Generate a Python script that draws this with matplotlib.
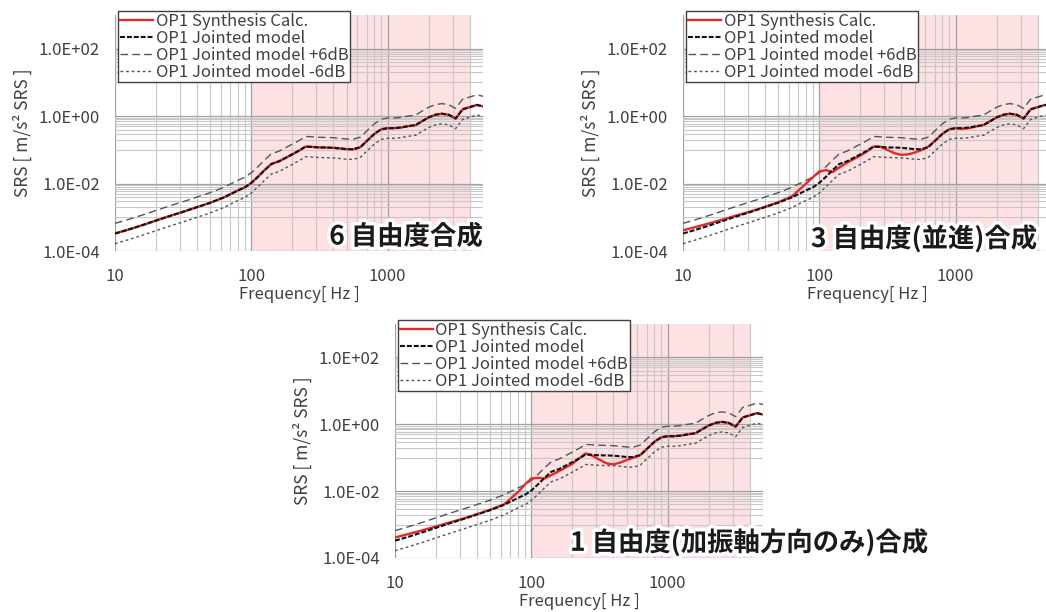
import matplotlib
matplotlib.use('Agg')
import matplotlib.pyplot as plt
import matplotlib.patheffects as pe
from matplotlib.ticker import FixedLocator, FixedFormatter, NullFormatter

plt.rcParams['font.family'] = ['Noto Sans CJK JP', 'DejaVu Sans']

# ============================================
# SRS data (frequency [Hz] / SRS [m/s^2])
# ============================================

freq = [10, 12.5, 16, 20, 25, 31.5, 40, 50, 63, 80, 90, 100, 112, 125, 140,
        160, 180, 200, 224, 250, 280, 315, 355, 400, 450, 500, 560, 630, 710,
        800, 900, 1000, 1120, 1250, 1400, 1600, 1800, 2000, 2240, 2500, 2800,
        3150, 3550, 4000, 4500, 5000]

# OP1 jointed model (reference)
jointed = [3.3e-4, 4.3e-4, 5.9e-4, 8.0e-4, 1.08e-3, 1.45e-3, 2.0e-3, 2.7e-3,
           3.9e-3, 6.3e-3, 7.8e-3, 1.05e-2, 1.6e-2, 2.5e-2, 3.8e-2,
           4.6e-2, 5.9e-2, 7.4e-2, 9.5e-2, 0.125, 0.122, 0.118, 0.117, 0.115,
           0.110, 0.105, 0.104, 0.120, 0.19,
           0.30, 0.41, 0.44, 0.44, 0.46, 0.50, 0.54, 0.72, 0.92, 1.10, 1.18, 1.10,
           0.85, 1.60, 1.85, 2.15, 1.95]

# OP1 synthesis, 6 DOF
syn_6dof = [3.3e-4, 4.3e-4, 5.9e-4, 8.0e-4, 1.08e-3, 1.45e-3, 2.0e-3, 2.7e-3,
            3.9e-3, 6.3e-3, 7.8e-3, 1.05e-2, 1.6e-2, 2.5e-2, 3.8e-2,
            4.6e-2, 5.9e-2, 7.4e-2, 9.5e-2, 0.125, 0.122, 0.118, 0.117, 0.115,
            0.110, 0.105, 0.104, 0.120, 0.19,
            0.30, 0.41, 0.44, 0.44, 0.46, 0.50, 0.54, 0.72, 0.92, 1.10, 1.18, 1.10,
            0.85, 1.60, 1.85, 2.15, 1.95]

# OP1 synthesis, 3 DOF (translation only)
syn_3dof = [4.1e-4, 5.2e-4, 6.8e-4, 8.8e-4, 1.15e-3, 1.5e-3, 2.05e-3, 2.8e-3,
            4.2e-3, 1.0e-2, 1.56e-2, 2.3e-2, 2.5e-2, 2.2e-2, 3.0e-2,
            4.2e-2, 5.4e-2, 6.8e-2, 9.0e-2, 0.125, 0.125, 0.100, 0.080, 0.071,
            0.074, 0.083, 0.098, 0.125, 0.19,
            0.30, 0.41, 0.44, 0.42, 0.44, 0.49, 0.55, 0.72, 0.92, 1.10, 1.18, 1.10,
            0.85, 1.60, 1.85, 2.15, 1.95]

# OP1 synthesis, 1 DOF (excitation axis only)
syn_1dof = [4.1e-4, 5.2e-4, 6.8e-4, 8.8e-4, 1.15e-3, 1.5e-3, 2.05e-3, 2.8e-3,
            4.0e-3, 9.5e-3, 1.6e-2, 2.4e-2, 2.5e-2, 2.4e-2, 3.0e-2,
            4.0e-2, 5.2e-2, 6.6e-2, 9.5e-2, 0.135, 0.115, 0.088, 0.068, 0.063,
            0.072, 0.085, 0.100, 0.120, 0.19,
            0.30, 0.41, 0.44, 0.44, 0.46, 0.50, 0.54, 0.72, 0.92, 1.10, 1.18, 1.10,
            0.85, 1.60, 1.85, 2.15, 1.95]

# +/-6dB tolerance band around the jointed model
db_offset = 6.0
upper = [v * 10 ** (db_offset / 20) for v in jointed]
lower = [v * 10 ** (-db_offset / 20) for v in jointed]

band = (100, 4000)  # shaded evaluation range [Hz]

x_major = [10, 100, 1000]
x_minor = [20, 30, 40, 50, 60, 70, 80, 90, 200, 300, 400, 500, 600, 700, 800,
           900, 2000, 3000, 4000, 5000]
y_major = [1e-4, 1e-2, 1e0, 1e2]
y_minor = [k * 10.0 ** e for e in (-3, -1, 1) for k in range(1, 10)]

labels = ['OP1 Synthesis Calc.', 'OP1 Jointed model',
          'OP1 Jointed model +6dB', 'OP1 Jointed model -6dB']

W, H = 1046, 612
fig = plt.figure(figsize=(W / 100, H / 100), dpi=100)
txt_col = '#404040'
fs = 12


def px_axes(left, top, right, bottom):
    return fig.add_axes([left / W, 1 - bottom / H, (right - left) / W, (bottom - top) / H])


def draw_panel(ax, syn, title, tx, ty):
    ax.axvspan(band[0], band[1], color='#fde1e3', lw=0, zorder=0.1)
    ax.plot(freq, syn, color='#e22a2a', lw=1.7, zorder=3, label=labels[0])
    ax.plot(freq, jointed, color='#111111', lw=1.5, dashes=(2.4, 0.9), zorder=4, label=labels[1])
    ax.plot(freq, upper, color='#555555', lw=1.0, dashes=(5.5, 3), zorder=2, label=labels[2])
    ax.plot(freq, lower, color='#555555', lw=1.0, dashes=(2, 2), zorder=2, label=labels[3])

    ax.set_xscale('log')
    ax.set_yscale('log')
    ax.set_xlim(10, 5000)
    ax.set_ylim(1e-4, 1e3)

    ax.xaxis.set_major_locator(FixedLocator(x_major))
    ax.xaxis.set_major_formatter(FixedFormatter(['10', '100', '1000']))
    ax.xaxis.set_minor_locator(FixedLocator(x_minor))
    ax.xaxis.set_minor_formatter(NullFormatter())
    ax.yaxis.set_major_locator(FixedLocator(y_major))
    ax.yaxis.set_major_formatter(FixedFormatter([f'{v:.1E}' for v in y_major]))
    ax.yaxis.set_minor_locator(FixedLocator(y_minor))
    ax.yaxis.set_minor_formatter(NullFormatter())

    ax.set_axisbelow(True)
    ax.grid(which='major', color='#a0a0a0', lw=0.9)
    ax.grid(which='minor', color='#c8c8c8', lw=0.8)
    ax.tick_params(which='both', length=0, labelsize=fs, labelcolor=txt_col)
    ax.tick_params(axis='x', pad=12)
    ax.tick_params(axis='y', pad=11)
    for s in ax.spines.values():
        s.set_visible(False)

    ax.set_xlabel('Frequency[ Hz ]', fontsize=fs, color=txt_col, labelpad=1)
    ax.set_ylabel('SRS [ m/s² SRS ]', fontsize=12.5, color=txt_col, labelpad=5)

    pos = ax.get_position()
    leg = ax.legend(loc='upper left', bbox_to_anchor=(pos.x0 + 3 / W, pos.y1 + 4 / H),
                    bbox_transform=fig.transFigure, borderaxespad=0,
                    fontsize=fs, frameon=True, fancybox=False, framealpha=1,
                    edgecolor='#404040', handlelength=2.0, handletextpad=0.15,
                    labelspacing=0.0, borderpad=0.1)
    leg.get_frame().set_linewidth(1.0)
    for t in leg.get_texts():
        t.set_color(txt_col)

    fig.text(tx / W, 1 - ty / H, title, fontsize=19, fontweight='bold', color='#1a1a1a',
             ha='center', va='center',
             path_effects=[pe.withStroke(linewidth=5, foreground='white')])


ax1 = px_axes(115, 15, 483, 251)
draw_panel(ax1, syn_6dof, '6 自由度合成', 406, 237)

ax2 = px_axes(683, 15, 1051, 251)
draw_panel(ax2, syn_3dof, '3 自由度(並進)合成', 924, 239)

ax3 = px_axes(395, 324, 763, 558)
draw_panel(ax3, syn_1dof, '1 自由度(加振軸方向のみ)合成', 749, 543)

fig.savefig('out.png', dpi=100)
